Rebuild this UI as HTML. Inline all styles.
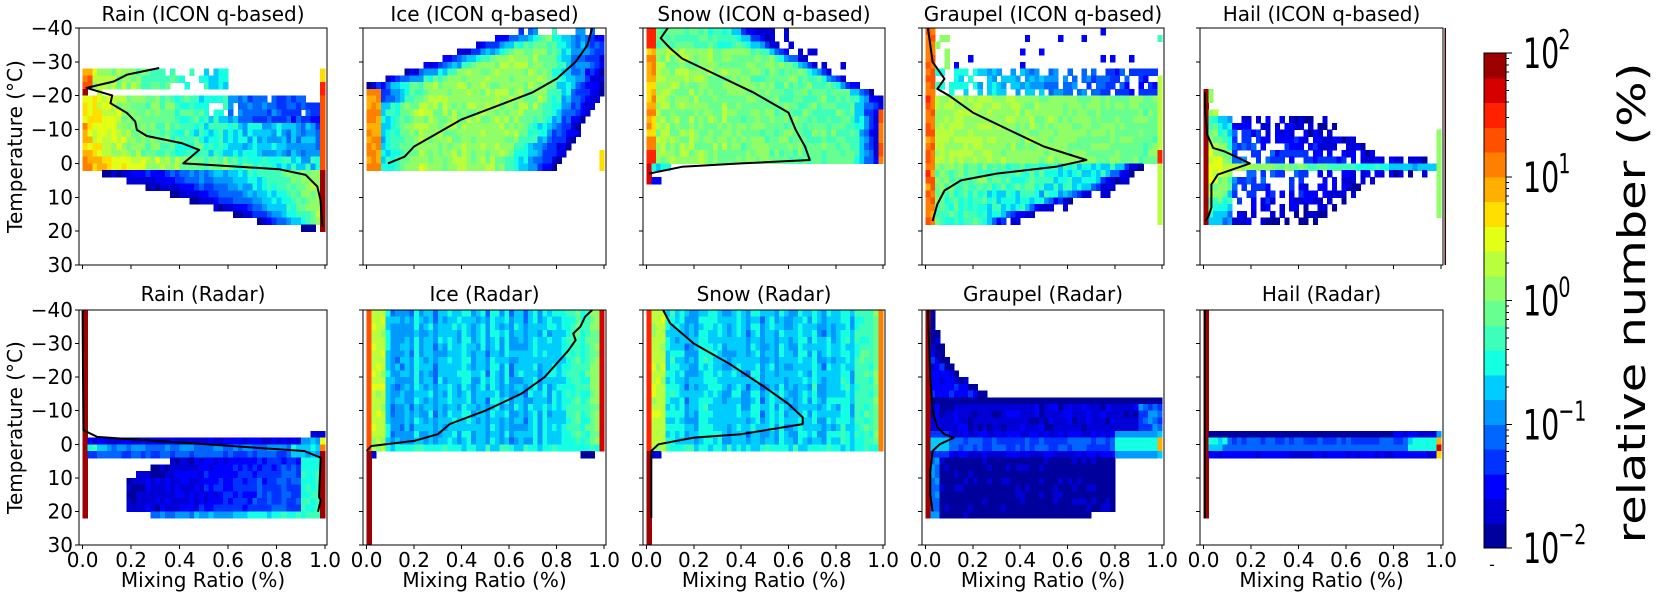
<!DOCTYPE html>
<html><head><meta charset="utf-8">
<style>
html,body{margin:0;padding:0;background:#fff;}
svg{display:block;}
text{font-family:"DejaVu Sans","Liberation Sans",sans-serif;fill:#000;}
</style></head>
<body>
<svg id="s" width="1660" height="602" xmlns="http://www.w3.org/2000/svg" shape-rendering="crispEdges"></svg>
<script>
const S=document.getElementById('s');
let out='';
function interp(t,p){for(let k=0;k<p.length-1;k++){const a=p[k][0],va=p[k][1],b=p[k+1][0],vb=p[k+1][1];if(t<=b)return va+(vb-va)*(t-a)/(b-a);}return p[p.length-1][1];}
const RR=[[0,0],[0.35,0],[0.66,1],[0.89,1],[1,0.5]],GG=[[0,0],[0.125,0],[0.375,1],[0.64,1],[0.91,0],[1,0]],BB=[[0,0.5],[0.11,1],[0.34,1],[0.65,0],[1,0]];
function jet(t){return 'rgb('+Math.round(255*interp(t,RR))+','+Math.round(255*interp(t,GG))+','+Math.round(255*interp(t,BB))+')';}
function col(v){let l=Math.floor((v+2)/4*20);l=Math.max(0,Math.min(19,l));return jet((l+0.5)/20);}
function rnd(a,b,c){let h=Math.sin(a*127.1+b*311.7+c*74.7)*43758.5453;return h-Math.floor(h);}
const lefts=[79,363,643,922,1200],widths=[248,243,242,242,243];
const tops=[28,310],H=[237,235];
const titles=[["Rain (ICON q-based)","Ice (ICON q-based)","Snow (ICON q-based)","Graupel (ICON q-based)","Hail (ICON q-based)"],["Rain (Radar)","Ice (Radar)","Snow (Radar)","Graupel (Radar)","Hail (Radar)"]];
const F=[
(x,T,r)=>{if(T<-28||T>20)return null;
 if(x>0.98){if(T<-20)return T<-24?0.6:1.5;if(T<2)return 1.2;return 2;}
 const n=(r-0.5)*0.5;
 if(T<-22){if(x<0.04)return 1.1+n;if(x>0.6)return null;if(x>0.3&&r<0.35)return null;return 0.4-x*2+n;}
 if(T<-20){if(x<0.02)return 1.9;if(x<0.12&&r<0.25)return 0.3;return null;}
 if(T<2){if(x>0.9&&T<-14&&r<0.5)return null;if(x>0.5&&T<-14&&r<0.2)return null;let v=1.0-2.0*Math.sqrt(x)+n;if(T>-2)v+=0.35;if(T<-12&&x>0.6)v-=0.4;return v;}
 if(T>18)return(x>0.9&&x<0.96)?-1.9:null;
 const xs=0.04+(T-2)/16*0.72;if(x<xs)return null;return -1.95+(x-xs)/(1-xs)*2.2+n*0.6;},
(x,T,r)=>{if(T>2)return null;
 let xl=T<-24?0.05+(-24-T)/16*0.6:0;let xr=T<-20?0.99:0.99-(T+20)/22*0.2;
 if(x>0.98&&T>-4)return 0.7;
 if(x<xl||x>xr)return null;if(T<-38&&r<0.5)return null;
 const d=Math.min(x-xl,xr-x),n=(r-0.5)*0.4;let v=-1.8+Math.min(d,0.25)/0.25*1.9+n;
 if(T>-22&&x<0.06)v=1.0+n;else if(T>-18&&x<0.25)v+=0.4*(1-x*4)+0.3;
 if(T<-28&&x>0.9)v+=0.3;return v;},
(x,T,r)=>{const n=(r-0.5)*0.4;if(T>5)return null;
 if(T>0){if(x<0.02)return 1.6;if(T<3&&x<0.1)return -0.6+n;if(T>3&&x<0.06)return -1.5;return null;}
 if(x<0.04)return(T<-34||T>-4)?1.4:0.9+n;
 let xr=T<-33?0.45+(T+40)/7*0.15:T<-20?0.6+(T+33)/13*0.39:0.99;
 if(x>0.97&&T>-16)return 1.2+n;
 if(x>xr){if(T<-28&&x<xr+0.12&&r<0.3)return -1.6;return null;}
 const d=xr-x;let v=0.15-0.4*x+n-(d<0.12?(0.12-d)/0.12*1.6:0);if(T<-33)v-=0.3;return v;},
(x,T,r)=>{const n=(r-0.5)*0.5;if(T>18)return null;
 if(x>0.98){if(T<-36&&T>-38)return -0.3;if(T>-26)return(T>-4&&T<0)?1.4:0.3;return null;}
 if(x<0.04)return 1.2+n;
 if(T<-28){if(x<0.1&&r<0.5)return 0.1;if(r<0.05)return -1.5;return null;}
 if(T<-20){if(r<0.3)return null;return -0.5-x*1.0+n;}
 if(T<0)return 0.25-0.35*x+n*0.6;
 let xr=T<8?0.95-T/8*0.2:0.75-(T-8)/10*0.45;
 if(x>xr){if(x<xr+0.08&&r<0.3)return -1.6;return null;}
 const d=xr-x;return(T<8?0.0:-0.2)-x*0.8+n-(d<0.12?(0.12-d)/0.12*1.3:0);},
(x,T,r)=>{if(T<-22||T>18)return null;if(x<0.02)return 1.9;
 if(x>0.98)return(T>-10&&T<16)?0.1:null;
 const n=(r-0.5)*0.5,w=Math.abs(T-1);
 if(T<-14)return(x<0.06&&r<0.6)?0.3+n:null;
 let xe=w<2?0.97:w<4?0.95:0.8-w*0.02;if(x>xe)return null;
 if(w>=2&&x>0.12&&r<0.35)return null;
 let v=w<2?0.5-x*1.4+n*0.5:(x<0.12?0.9-x*6-w*0.08+n:-0.9-x*1.0-w*0.04+n);if(v<-1.9)v=-1.9;return v;},
(x,T,r)=>{const n=(r-0.5)*0.3;if(T>22)return null;if(x<0.02)return 2;
 if(x>0.98)return T>2?2:(T>0?1.0:(T>-2?0.5:(T>-4?-1.6:null)));
 if(T<-4)return null;if(T<-2)return x>0.94?-1.6:null;
 if(T<0)return(x>0.9?-0.9:-1.6)+n;
 if(T<2)return(x<0.1?-0.5:x>0.85?-0.6:-1.0)+n;
 if(T<4)return(x>0.85?-0.8:-1.2)+n;
 if(T<20){const xl=T<10?0.4-(T-4)/6*0.22:0.18;if(x<xl)return null;return -1.8+(x-xl)*0.9+(x>0.9?0.7:0)+n;}
 if(x<0.28)return null;return -1.4+x*1.1+n;},
(x,T,r,i)=>{const n=(r-0.5)*0.3,c=(rnd(i,0,7)-0.5)*0.4;
 if(T>2){if(x<0.02)return 2;if(T<4)return(x<0.04)?-1.7:((x>0.9&&x<0.96)?-1.8:null);return null;}
 if(x<0.02)return 1.3;if(x>0.98)return 1.7;if(x<0.08)return 0.3+n;
 let v=-0.75+n+c;if(x>0.8)v+=(x-0.8)*4;if(T>0)v=-0.5+n;return v;},
(x,T,r,i)=>{const n=(r-0.5)*0.3,c=(rnd(i,0,9)-0.5)*0.4;
 if(T>2){if(x<0.02)return 2;if(T<4&&x<0.06)return -1.7;return null;}
 if(x<0.02)return 1.5;if(x>0.98)return 1.0;if(x<0.08)return 0.3+n;
 let v=-0.7+n+c;if(x>0.85)v+=(x-0.85)*5;if(T>0)v=-0.5+n;return v;},
(x,T,r)=>{const n=(r-0.5)*0.3;if(T>22)return null;if(x<0.02)return 2;
 if(T<-14){const xr=0.03+0.27*Math.exp(-(-14-T)/8);if(x>xr)return null;return -1.5+n-(xr-x<0.04?0.4:0);}
 if(T<-12)return -1.95;
 if(T<-4)return(x>0.9?-1.1:-1.7)+n;
 if(T<4){let v=-1.2+n;if(x<0.1)v=-0.8;if(x>0.8)v=-0.6;if(x>0.98)v=(T>-2&&T<2)?0.8:-0.3;if(T<-2||T>2)v-=0.4;return v;}
 if(x>0.8)return null;if(T>20&&x>0.7)return null;return(x<0.06?-1.0:-1.85)+n*0.5;},
(x,T,r)=>{if(x<0.02)return T<22?2:null;if(T<-4||T>4)return null;const n=(r-0.5)*0.2;
 if(T<-2)return x>0.98?-0.9:(x>0.8?-1.6:-1.95)+n;
 if(T<0)return x>0.98?0.8:(x<0.1?-0.6:x>0.85?-0.6:-1.2)+n;
 if(T<2)return x>0.98?1.6:(x<0.08?-0.7:x>0.85?-0.5:-1.1)+n;
 return x>0.98?0.6:-1.6+n;}
];
const LINES=[
[[0.316,-28.2],[0.183,-26.2],[0.128,-24.2],[0.016,-22.3],[0.122,-20.1],[0.115,-17.8],[0.183,-14.9],[0.217,-12.4],[0.224,-9.9],[0.265,-8.1],[0.408,-6],[0.481,-4],[0.448,-2],[0.415,0],[0.537,0.5],[0.81,1.7],[0.92,3.4],[0.968,6.8],[0.981,10.8],[0.989,18.7]],
[[0.09,0],[0.16,-2],[0.2,-5],[0.3,-9],[0.4,-13],[0.55,-17],[0.7,-21],[0.8,-25],[0.88,-30],[0.93,-35],[0.95,-40]],
[[0.09,-40],[0.06,-37],[0.1,-34],[0.15,-31],[0.3,-26],[0.45,-21],[0.6,-15],[0.63,-10],[0.67,-5],[0.69,-1],[0.4,0],[0.15,1],[0.01,3]],
[[0.01,-40],[0.02,-35],[0.03,-30],[0.08,-25],[0.05,-22],[0.1,-20],[0.2,-15],[0.35,-10],[0.5,-5],[0.68,-1],[0.55,1],[0.3,3],[0.15,5],[0.08,8],[0.05,12],[0.03,17]],
[[0.007,17],[0.02,15.8],[0.033,13],[0.033,6.2],[0.06,3.3],[0.195,0],[0.09,-3.5],[0.04,-4.6],[0.015,-8.6],[0.007,-15.4],[0.005,-21]],
[[0.0,-39.8],[0.003,-4.2],[0.06,-2.2],[0.914,2],[0.982,4],[0.975,15.7],[0.982,16.6],[0.971,20.1]],
[[0.0,2],[0.02,0.5],[0.2,-1],[0.3,-3],[0.35,-6],[0.5,-10],[0.65,-15],[0.75,-20],[0.8,-24],[0.85,-28],[0.88,-31],[0.87,-33],[0.9,-35],[0.92,-38],[0.95,-40]],
[[0.07,-40],[0.1,-36],[0.2,-30],[0.35,-24],[0.5,-17],[0.6,-12],[0.66,-8],[0.66,-6],[0.4,-3],[0.2,-2],[0.05,0],[0.02,2],[0.02,22]],
[[0.01,-40],[0.015,-30],[0.02,-20],[0.03,-10],[0.05,-5],[0.08,-3],[0.12,-2],[0.06,0],[0.03,2],[0.02,8],[0.02,15],[0.03,20]],
[[0.005,-40],[0.005,22]]
];
const yt=['\u221240','\u221230','\u221220','\u221210','0','10','20','30'];
for(let row=0;row<2;row++)for(let c=0;c<5;c++){
 const p=row*5+c,L=lefts[c],W=widths[c],top=tops[row],h=H[row];
 const px=x=>L+(x+0.015)/1.023*W, py=T=>top+(T+40)/70*h;
 for(let i=0;i<50;i++)for(let j=0;j<35;j++){
  const x=i*0.02+0.01,T=-40+2*j+1;const v=F[p](x,T,rnd(i,j,p+1),i);
  if(v===null||v===undefined||isNaN(v))continue;
  const x0=px(i*0.02),x1=px(i*0.02+0.02),y0=py(T-1),y1=py(T+1);
  out+=`<rect x="${x0.toFixed(1)}" y="${y0.toFixed(1)}" width="${(x1-x0+0.6).toFixed(1)}" height="${(y1-y0+0.6).toFixed(1)}" fill="${col(v)}"/>`;
 }
 out+=`<polyline fill="none" stroke="#000" stroke-width="2" shape-rendering="geometricPrecision" stroke-linejoin="round" points="${LINES[p].map(q=>px(q[0]).toFixed(1)+','+py(q[1]).toFixed(1)).join(' ')}"/>`;
 out+=`<rect x="${L}" y="${top}" width="${W}" height="${h}" fill="none" stroke="#000" stroke-width="1"/>`;
 for(let k=0;k<8;k++){const y=top+k*h/7;out+=`<line x1="${L-4}" x2="${L}" y1="${y}" y2="${y}" stroke="#000"/>`;
  if(c==0)out+=`<text x="${L-6}" y="${y+7}" font-size="20" text-anchor="end">${yt[k]}</text>`;}
 for(let k=0;k<6;k++){const x=px(k*0.2);out+=`<line x1="${x}" x2="${x}" y1="${top+h}" y2="${top+h+4}" stroke="#000"/>`;
  if(row==1)out+=`<text x="${x}" y="${top+h+22}" font-size="20" text-anchor="middle">${(k*0.2).toFixed(1)}</text>`;}
 out+=`<text x="${L+W/2}" y="${row?301:21}" font-size="20" text-anchor="middle">${titles[row][c]}</text>`;
 if(row==1)out+=`<text x="${L+W/2}" y="587" font-size="20" text-anchor="middle">Mixing Ratio (%)</text>`;
 if(c==0)out+=`<text transform="translate(22,${top+h/2}) rotate(-90)" font-size="20" text-anchor="middle">Temperature (°C)</text>`;
}
out+=`<line x1="1445" x2="1445" y1="28" y2="265" stroke="#300" stroke-width="1.5"/>`;
const cbT=53,cbB=548;
for(let k=0;k<20;k++){const y0=cbB-(k+1)*(cbB-cbT)/20;out+=`<rect x="1484" y="${y0.toFixed(1)}" width="22" height="${((cbB-cbT)/20+0.6).toFixed(1)}" fill="${jet((k+0.5)/20)}"/>`;}
out+=`<rect x="1484" y="${cbT}" width="22" height="${cbB-cbT}" fill="none" stroke="#000"/>`;
const ex=['2','1','0','\u22121','\u22122'];
for(let k=0;k<5;k++){const y=cbT+k*(cbB-cbT)/4;out+=`<line x1="1506" x2="1512" y1="${y}" y2="${y}" stroke="#000"/>`;
 if(k<4)for(let m=2;m<10;m++){const yy=y+(cbB-cbT)/4*(1-Math.log10(m));out+=`<line x1="1506" x2="1509" y1="${yy.toFixed(1)}" y2="${yy.toFixed(1)}" stroke="#000"/>`;}
 out+=`<g transform="translate(1523,${y+15}) scale(0.68,1)"><text x="0" y="0" font-size="42">10</text><text x="52" y="-19" font-size="28">${ex[k]}</text></g>`;}
out+=`<text x="1492" y="570" font-size="16" text-anchor="middle">-</text>`;
out+=`<g transform="translate(1645,303) rotate(-90) scale(1.26,1)"><text x="0" y="0" font-size="38" text-anchor="middle">relative number (%)</text></g>`;
S.innerHTML=out;
</script>
</body></html>
